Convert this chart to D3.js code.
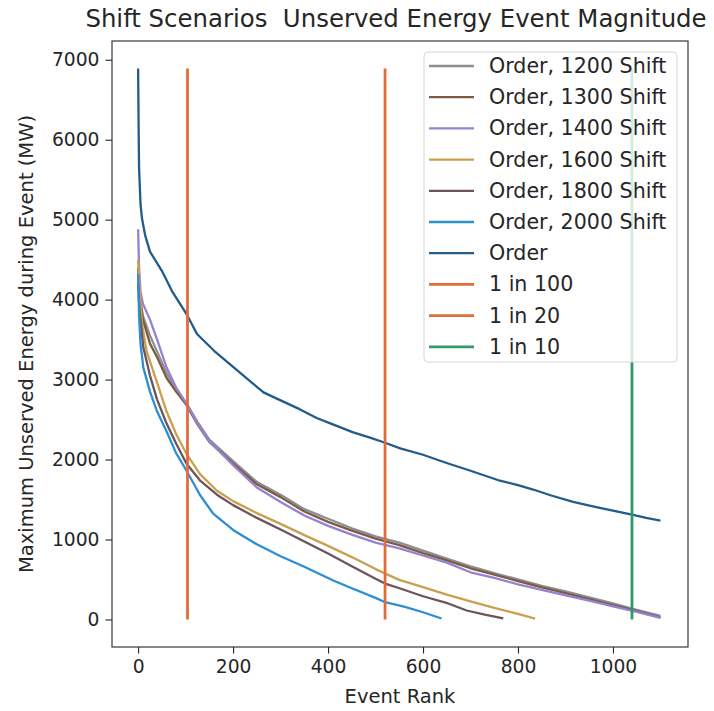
<!DOCTYPE html>
<html>
<head>
<meta charset="utf-8">
<script src="https://cdn.jsdelivr.net/npm/d3@7"></script>
<style>
  body { margin: 0; background: #fff; }
  svg { font-family: "DejaVu Sans", sans-serif; }
  .tick text { fill: #262626; }
</style>
</head>
<body>
<div id="chart"></div>
<script>
// 1: DATA
const seriesNames = ["Order, 1200 Shift", "Order, 1300 Shift", "Order, 1400 Shift",
    "Order, 1600 Shift", "Order, 1800 Shift", "Order, 2000 Shift", "Order"];

// [event rank, MW]
const shift1200 = [[0,4300],[3,4050],[10,3800],[25,3550],[40,3350],[60,3080],[80,2880],[102,2700],[125,2470],[150,2250],[200,1980],[250,1720],[300,1560],[350,1380],[400,1260],[450,1140],[500,1040],[550,960],[600,860],[650,760],[700,665],[750,580],[800,500],[850,420],[900,350],[950,275],[1000,200],[1050,120],[1100,45]];
const shift1300 = [[0,4400],[3,4050],[10,3750],[25,3450],[40,3280],[60,3020],[80,2850],[102,2680],[125,2440],[150,2220],[200,1950],[250,1690],[300,1530],[350,1350],[400,1220],[450,1110],[500,1010],[550,930],[600,830],[650,740],[700,640],[750,560],[800,480],[850,400],[900,330],[950,255],[1000,180],[1050,105],[1100,25]];
const shift1400 = [[0,4880],[2,4400],[5,4100],[10,3950],[25,3750],[40,3500],[60,3150],[80,2900],[102,2700],[125,2450],[150,2230],[200,1930],[250,1650],[300,1470],[350,1300],[400,1170],[450,1060],[500,960],[550,890],[600,800],[650,710],[700,590],[750,520],[800,440],[850,370],[900,300],[950,235],[1000,165],[1050,95],[1100,20]];
const shift1600 = [[0,4500],[3,4150],[8,3700],[18,3350],[35,3050],[60,2600],[80,2320],[102,2070],[130,1820],[166,1610],[200,1480],[250,1330],[300,1195],[350,1055],[400,920],[450,780],[500,630],[550,495],[600,405],[650,310],[700,225],[750,145],[800,70],[836,10]];
const shift1800 = [[0,4200],[3,3850],[11,3400],[25,3050],[40,2750],[60,2450],[80,2200],[102,1948],[130,1740],[166,1560],[200,1430],[250,1270],[300,1125],[350,975],[400,825],[450,665],[500,510],[520,449],[552,387],[600,290],[653,200],[692,112],[730,60],[769,12]];
const shift2000 = [[0,4320],[2,3800],[5,3450],[11,3150],[25,2850],[40,2600],[60,2350],[80,2080],[102,1860],[130,1560],[158,1323],[200,1120],[250,940],[300,790],[350,660],[411,487],[450,390],[500,270],[520,216],[560,160],[600,90],[639,12]];
const order = [[0,6890],[1,6200],[2,5650],[5,5200],[8,5020],[15,4800],[25,4600],[50,4360],[71,4110],[102,3820],[124,3570],[160,3360],[200,3160],[240,2960],[264,2840],[300,2740],[340,2630],[376,2520],[410,2440],[453,2340],[490,2270],[520,2210],[552,2140],[600,2060],[636,1985],[653,1950],[700,1860],[762,1735],[800,1680],[832,1625],[870,1550],[916,1470],[960,1410],[1000,1360],[1040,1310],[1070,1270],[1100,1236]];

const returnNames = ["1 in 100", "1 in 20", "1 in 10"];
const returnRanks = [104, 520, 1040];

const xTicks = [0, 200, 400, 600, 800, 1000];
const yTicks = [0, 1000, 2000, 3000, 4000, 5000, 6000, 7000];

const colors = ["#8b9095", "#7f5b46", "#9482d2", "#c9a04f", "#6d545b", "#2b8fd5", "#215c8b", "#e06c3b", "#e06c3b", "#2e9b64"];

// 2: LAYOUT
const W = 714, H = 711;
const margin = { top: 41, right: 26, bottom: 64, left: 112 };
const width = W - margin.left - margin.right;
const height = H - margin.top - margin.bottom;

const svg = d3.select("#chart").append("svg")
    .attr("width", W)
    .attr("height", H);

const g = svg.append("g")
    .attr("transform", `translate(${margin.left},${margin.top})`);

const allSeries = [shift1200, shift1300, shift1400, shift1600, shift1800, shift2000, order];
const allX = allSeries.flat().map(d => d[0]);
const allY = allSeries.flat().map(d => d[1]);
const xMax = d3.max(allX), yMax = d3.max(allY);

// matplotlib-style 5% padding
const xPad = (xMax - 0) * 0.05, yPad = (yMax - 0) * 0.05;
const xScale = d3.scaleLinear().domain([-xPad, xMax + xPad + 3]).range([0, width]);
const yScale = d3.scaleLinear().domain([-yPad, yMax + yPad]).range([height, 0]);

// 3: PLOT LINES
const line = d3.line()
    .x(d => xScale(d[0]))
    .y(d => yScale(d[1]));

allSeries.forEach((s, i) => {
    g.append("path")
        .datum(s)
        .attr("fill", "none")
        .attr("stroke", colors[i])
        .attr("stroke-width", 2.3)
        .attr("stroke-linejoin", "round")
        .attr("d", line);
});

returnRanks.forEach((r, i) => {
    g.append("path")
        .datum([[r, 0], [r, yMax]])
        .attr("fill", "none")
        .attr("stroke", colors[7 + i])
        .attr("stroke-width", 2.8)
        .attr("d", line);
});

// 4: AXES
const xAxis = g.append("g")
    .attr("transform", `translate(0,${height})`)
    .call(d3.axisBottom(xScale).tickValues(xTicks).tickFormat(d3.format("d")).tickSize(6.5).tickPadding(6));
const yAxis = g.append("g")
    .call(d3.axisLeft(yScale).tickValues(yTicks).tickFormat(d3.format("d")).tickSize(6.5).tickPadding(6));

[xAxis, yAxis].forEach(a => {
    a.select(".domain").remove();
    a.selectAll(".tick line").attr("stroke", "#262626").attr("stroke-width", 1.1);
    a.selectAll(".tick text").attr("font-size", "18.7px").attr("font-family", "DejaVu Sans");
});

// frame
g.append("rect")
    .attr("width", width)
    .attr("height", height)
    .attr("fill", "none")
    .attr("stroke", "#262626")
    .attr("stroke-width", 1.1);

// 5: LABELS
svg.append("text")
    .attr("x", 396)
    .attr("y", 27)
    .attr("text-anchor", "middle")
    .attr("font-size", "24.4px")
    .attr("fill", "#262626")
    .style("white-space", "pre")
    .text("Shift Scenarios  Unserved Energy Event Magnitude");

svg.append("text")
    .attr("x", margin.left + width / 2)
    .attr("y", 703)
    .attr("text-anchor", "middle")
    .attr("font-size", "19.5px")
    .attr("fill", "#262626")
    .text("Event Rank");

svg.append("text")
    .attr("transform", `translate(33,${margin.top + height / 2}) rotate(-90)`)
    .attr("text-anchor", "middle")
    .attr("font-size", "19.5px")
    .attr("fill", "#262626")
    .text("Maximum Unserved Energy during Event (MW)");

// 6: LEGEND
const legendNames = seriesNames.concat(returnNames);
const legend = svg.append("g")
    .attr("transform", "translate(424,52)");

legend.append("rect")
    .attr("width", 253)
    .attr("height", 310)
    .attr("rx", 4)
    .attr("fill", "#fff")
    .attr("fill-opacity", 0.8)
    .attr("stroke", "#d6d6d6")
    .attr("stroke-width", 1);

legendNames.forEach((name, i) => {
    const row = legend.append("g")
        .attr("transform", `translate(0,${14 + i * 31.2})`);
    row.append("line")
        .attr("x1", 5).attr("x2", 50)
        .attr("stroke", colors[i])
        .attr("stroke-width", i < 7 ? 2.3 : 2.8);
    row.append("text")
        .attr("x", 65)
        .attr("y", 7)
        .attr("font-size", "20.6px")
        .attr("fill", "#262626")
        .text(name);
});
</script>
</body>
</html>
